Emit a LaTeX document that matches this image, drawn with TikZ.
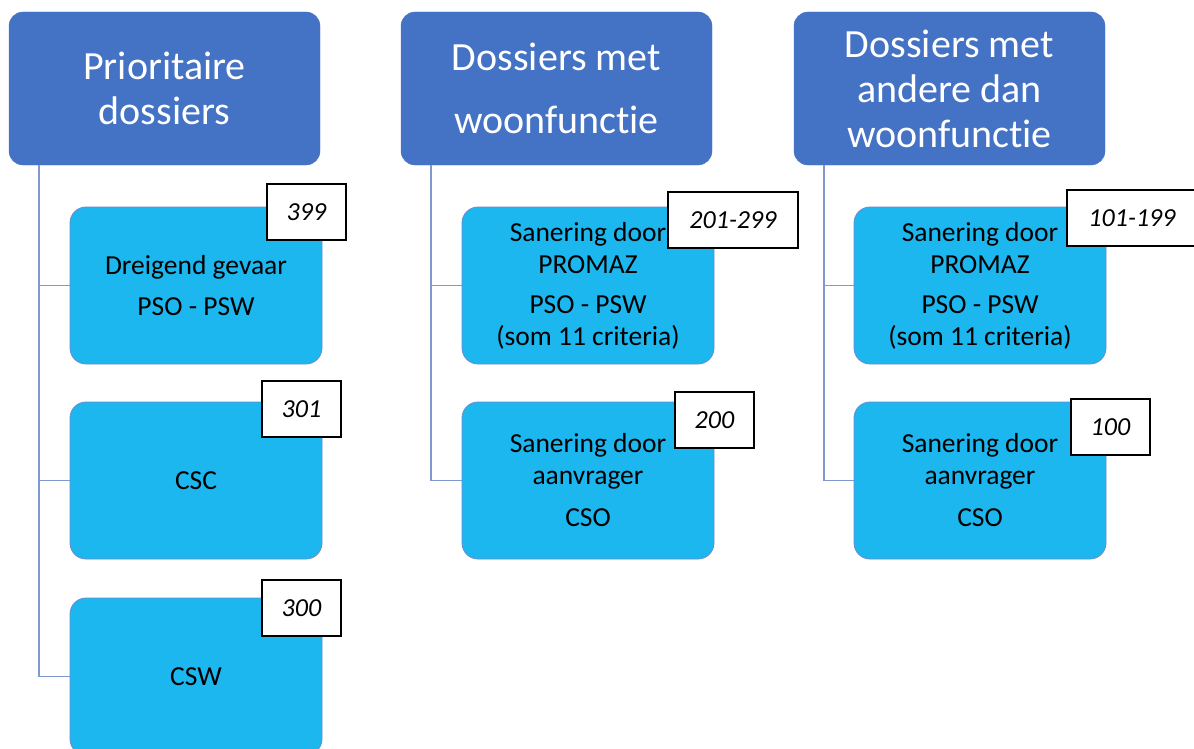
\documentclass[tikz,border=0pt]{standalone}
\usepackage{fontspec}
\setmainfont[Ligatures=NoCommon]{Carlito}
\definecolor{headblue}{HTML}{4472C4}
\definecolor{boxblue}{HTML}{1BB7EE}
\definecolor{rimblue}{HTML}{6A8CD0}
\definecolor{linkblue}{HTML}{7F98CD}
\begin{document}
\begin{tikzpicture}
[x=1pt,y=-1pt,
  headdecorate/.style={shape=rectangle,rounded corners=14pt,fill=headblue,draw=headblue,
    minimum width=311pt,minimum height=153pt,inner sep=0pt,align=center,
    text=white,font=\fontsize{40}{45}\selectfont},%
  boxdecorate/.style={shape=rectangle,rounded corners=16pt,fill=boxblue,draw=rimblue,
    line width=0.8pt,minimum width=252pt,minimum height=157pt,inner sep=0pt,
    align=center,font=\fontsize{27.5}{32}\selectfont},%
  tagdecorate/.style={shape=rectangle,fill=white,draw=black,line width=1.5pt,
    minimum height=56pt,inner sep=0pt,font=\fontsize{26}{28}\selectfont\itshape},%
  linedecorate/.style={-,draw=linkblue,line width=1.6pt}]
\clip (0,0) rectangle (1194,749);
%% column heads
\foreach \nodename/\x/\txt in {head1/164.5/{Prioritaire\\dossiers},
  head2/556.5/{Dossiers met\\[18pt]woonfunctie},
  head3/949.5/{Dossiers met\\andere dan\\woonfunctie}} {
  \node (\nodename) at (\x,88.5) [headdecorate] {\txt};
}
%% boxes under the heads
\foreach \nodename/\x/\y/\txt in {a1/196/285.5/{Dreigend gevaar\\[9pt]PSO - PSW},
  a2/196/480.5/{CSC}, a3/196/676.5/{CSW},
  b1/588/285.5/{Sanering door\\PROMAZ\\[8pt]PSO - PSW\\(som 11 criteria)},
  b2/588/480.5/{Sanering door\\aanvrager\\[10pt]CSO},
  c1/980/285.5/{Sanering door\\PROMAZ\\[8pt]PSO - PSW\\(som 11 criteria)},
  c2/980/480.5/{Sanering door\\aanvrager\\[10pt]CSO}} {
  \node (\nodename) at (\x,\y) [boxdecorate] {\txt};
}
%% edges or lines
\foreach \startnode/\endnode in {head1/a1, head1/a2, head1/a3,
  head2/b1, head2/b2, head3/c1, head3/c2} {
  \draw[linedecorate] (\startnode.south west) ++(30,0) |- (\endnode.west);
}
%% number tags
\foreach \nodename/\x/\y/\w/\num in {t399/306.5/212/79/399,
  t301/301.5/409/79/301, t300/301.5/608/79/300,
  t201/733/220/130/201-299, t200/714.5/420/79/200,
  t101/1132/218/130/101-199, t100/1110.5/427/79/100} {
  \node (\nodename) at (\x,\y) [tagdecorate,minimum width=\w pt] {\num};
}
\end{tikzpicture}
\end{document}
